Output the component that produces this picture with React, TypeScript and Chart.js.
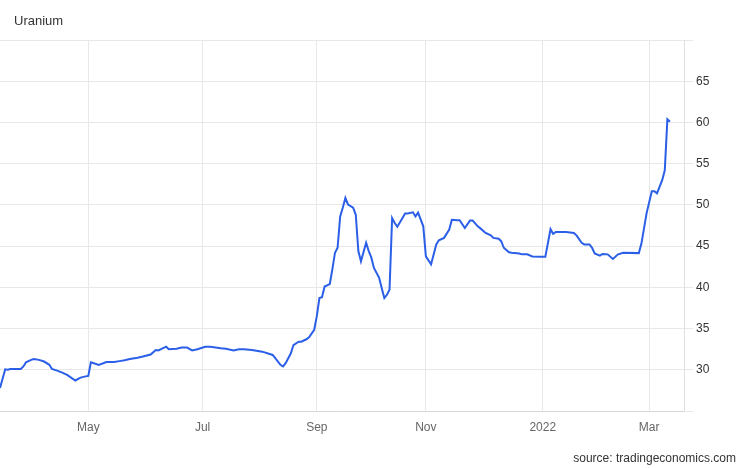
import React, { useEffect, useRef } from "react";
import { Chart, registerables } from "chart.js";

Chart.register(...registerables);

// Trading-session index (session 0 = mid-March 2021), one entry per plotted observation
const sessions: number[] = [
  0, 2, 3, 4, 8, 9, 10, 12, 13, 15, 17, 19, 20, 22, 24, 26, 29, 31, 33,
  34, 35, 37, 38, 41, 44, 46, 48, 50, 53, 55, 58, 60, 61, 62, 64, 65, 68, 70, 72, 74, 76,
  79, 81, 85, 87, 90, 92, 94, 97, 101, 105, 106, 108, 109, 110, 112, 113, 115, 116, 118, 119, 121,
  122, 123, 124, 125, 127, 128, 129, 130, 131, 132, 133, 134, 136, 137, 138, 139, 141, 142, 143, 144, 146, 147, 148, 149, 150,
  151, 152, 153, 155, 156, 157, 159, 160, 161, 163, 164,
  166, 168, 169, 171, 173, 174, 176, 177, 179, 181, 182, 184, 185, 187, 189, 190, 192, 193, 194, 196, 197, 200, 201, 203, 205, 208,
  210, 212, 213, 214, 218, 221, 222, 224, 225, 227, 228, 229, 231,
  232, 234, 236, 238, 240, 246, 247, 249, 251,
  252, 253, 255, 256, 257, 258,
];

// Uranium price, USD/lb
const prices: number[] = [
  27.8, 30.05, 30.0, 30.1, 30.1, 30.4, 30.9, 31.2, 31.3, 31.2, 31.0, 30.6, 30.1, 29.9, 29.65, 29.35, 28.7, 29.05, 29.2,
  29.25, 30.9, 30.7, 30.6, 30.95, 30.95, 31.05, 31.15, 31.3, 31.45, 31.6, 31.85, 32.4, 32.35, 32.5, 32.8, 32.5, 32.55, 32.7, 32.7, 32.35, 32.5,
  32.8, 32.8, 32.6, 32.55, 32.35, 32.5, 32.5, 32.4, 32.2, 31.8, 31.4, 30.6, 30.4, 30.8, 32.0, 33.0, 33.4, 33.4, 33.7, 33.95, 34.85,
  36.5, 38.7, 38.8, 40.1, 40.4, 42.2, 44.2, 44.8, 48.6, 49.65, 50.85, 50.05, 49.65, 48.8, 44.4, 43.15, 45.4, 44.4, 43.6, 42.35, 41.15, 39.9, 38.7, 39.1, 39.7,
  48.4, 47.8, 47.35, 48.4, 48.95, 48.95, 49.1, 48.6, 49.05, 47.4, 43.75,
  42.8, 45.2, 45.7, 46.0, 47.0, 48.2, 48.15, 48.15, 47.2, 48.1, 48.1, 47.4, 47.15, 46.6, 46.3, 46.0, 45.9, 45.6, 44.8, 44.25, 44.2, 44.1, 44.0, 44.0, 43.75, 43.7,
  43.7, 47.05, 46.5, 46.7, 46.7, 46.6, 46.3, 45.4, 45.2, 45.2, 44.8, 44.1, 43.85,
  44.05, 44.0, 43.45, 44.0, 44.2, 44.15, 45.3, 49.0, 51.65,
  51.65, 51.4, 53.0, 54.2, 60.4, 60.1,
];

// X-axis: first session of each labelled month
const monthTickSessions: number[] = [34, 78, 122, 164, 209, 250];
const monthTickLabels: string[] = ["May", "Jul", "Sep", "Nov", "2022", "Mar"];
const xMin = 0;
const xMax = 263.4;

// Y-axis range and labelled ticks
const yMin = 25;
const yMax = 70;
const yStep = 5;
const yLabelled: number[] = [30, 35, 40, 45, 50, 55, 60, 65];

const titleText = "Uranium";
const sourceText = "source: tradingeconomics.com";

const FONT = "'Liberation Sans', Arial, Helvetica, sans-serif";

export default function App() {
  const ref = useRef<HTMLCanvasElement | null>(null);

  useEffect(() => {
    if (!ref.current) return;

    const textPlugin = {
      id: "texts",
      afterDraw(chart: any) {
        const ctx = chart.ctx;
        ctx.save();
        ctx.fillStyle = "#333333";
        ctx.font = `13px ${FONT}`;
        ctx.textAlign = "left";
        ctx.textBaseline = "alphabetic";
        ctx.fillText(titleText, 14, 25);
        ctx.font = `12px ${FONT}`;
        ctx.textAlign = "right";
        ctx.textBaseline = "middle";
        ctx.fillText(sourceText, 736, 459);
        ctx.restore();
      },
    };

    const chart = new Chart(ref.current, {
      type: "line",
      data: {
        datasets: [
          {
            data: sessions.map((s, i) => ({ x: s, y: prices[i] })),
            borderColor: "#2b5fe8",
            borderWidth: 2,
            pointRadius: 0,
            tension: 0,
            fill: false,
          },
        ],
      },
      options: {
        responsive: false,
        animation: false,
        layout: { padding: { top: 40, left: 0, right: 0, bottom: 0 } },
        plugins: {
          legend: { display: false },
          tooltip: { enabled: false },
          title: { display: false },
        },
        scales: {
          x: {
            type: "linear",
            min: xMin,
            max: xMax,
            afterBuildTicks: (scale: any) => {
              scale.ticks = monthTickSessions.map((v) => ({ value: v }));
            },
            afterFit: (scale: any) => {
              scale.height = 57;
            },
            ticks: {
              autoSkip: false,
              maxRotation: 0,
              padding: 9,
              color: "#666666",
              font: { size: 12, family: FONT },
              callback: (value: any) => {
                const idx = monthTickSessions.indexOf(Number(value));
                return idx >= 0 ? monthTickLabels[idx] : "";
              },
            },
            grid: {
              color: "#e8e8e8",
              drawTicks: false,
              lineWidth: 1,
            },
            border: { display: true, color: "#d8d8d8" },
          },
          y: {
            position: "right",
            min: yMin,
            max: yMax,
            afterFit: (scale: any) => {
              scale.width = 62;
            },
            ticks: {
              stepSize: yStep,
              padding: 3,
              color: "#333333",
              font: { size: 12, family: FONT },
              callback: (value: any) =>
                yLabelled.includes(Number(value)) ? String(value) : "",
            },
            grid: {
              color: "#e8e8e8",
              tickLength: 9,
              drawTicks: true,
              lineWidth: 1,
            },
            border: { display: true, color: "#e0e0e0" },
          },
        },
      },
      plugins: [textPlugin],
    } as any);

    return () => chart.destroy();
  }, []);

  return (
    <div style={{ position: "absolute", left: 0, top: 0, width: 746, height: 468, background: "#ffffff" }}>
      <canvas ref={ref} width={746} height={468} style={{ display: "block" }} />
    </div>
  );
}
